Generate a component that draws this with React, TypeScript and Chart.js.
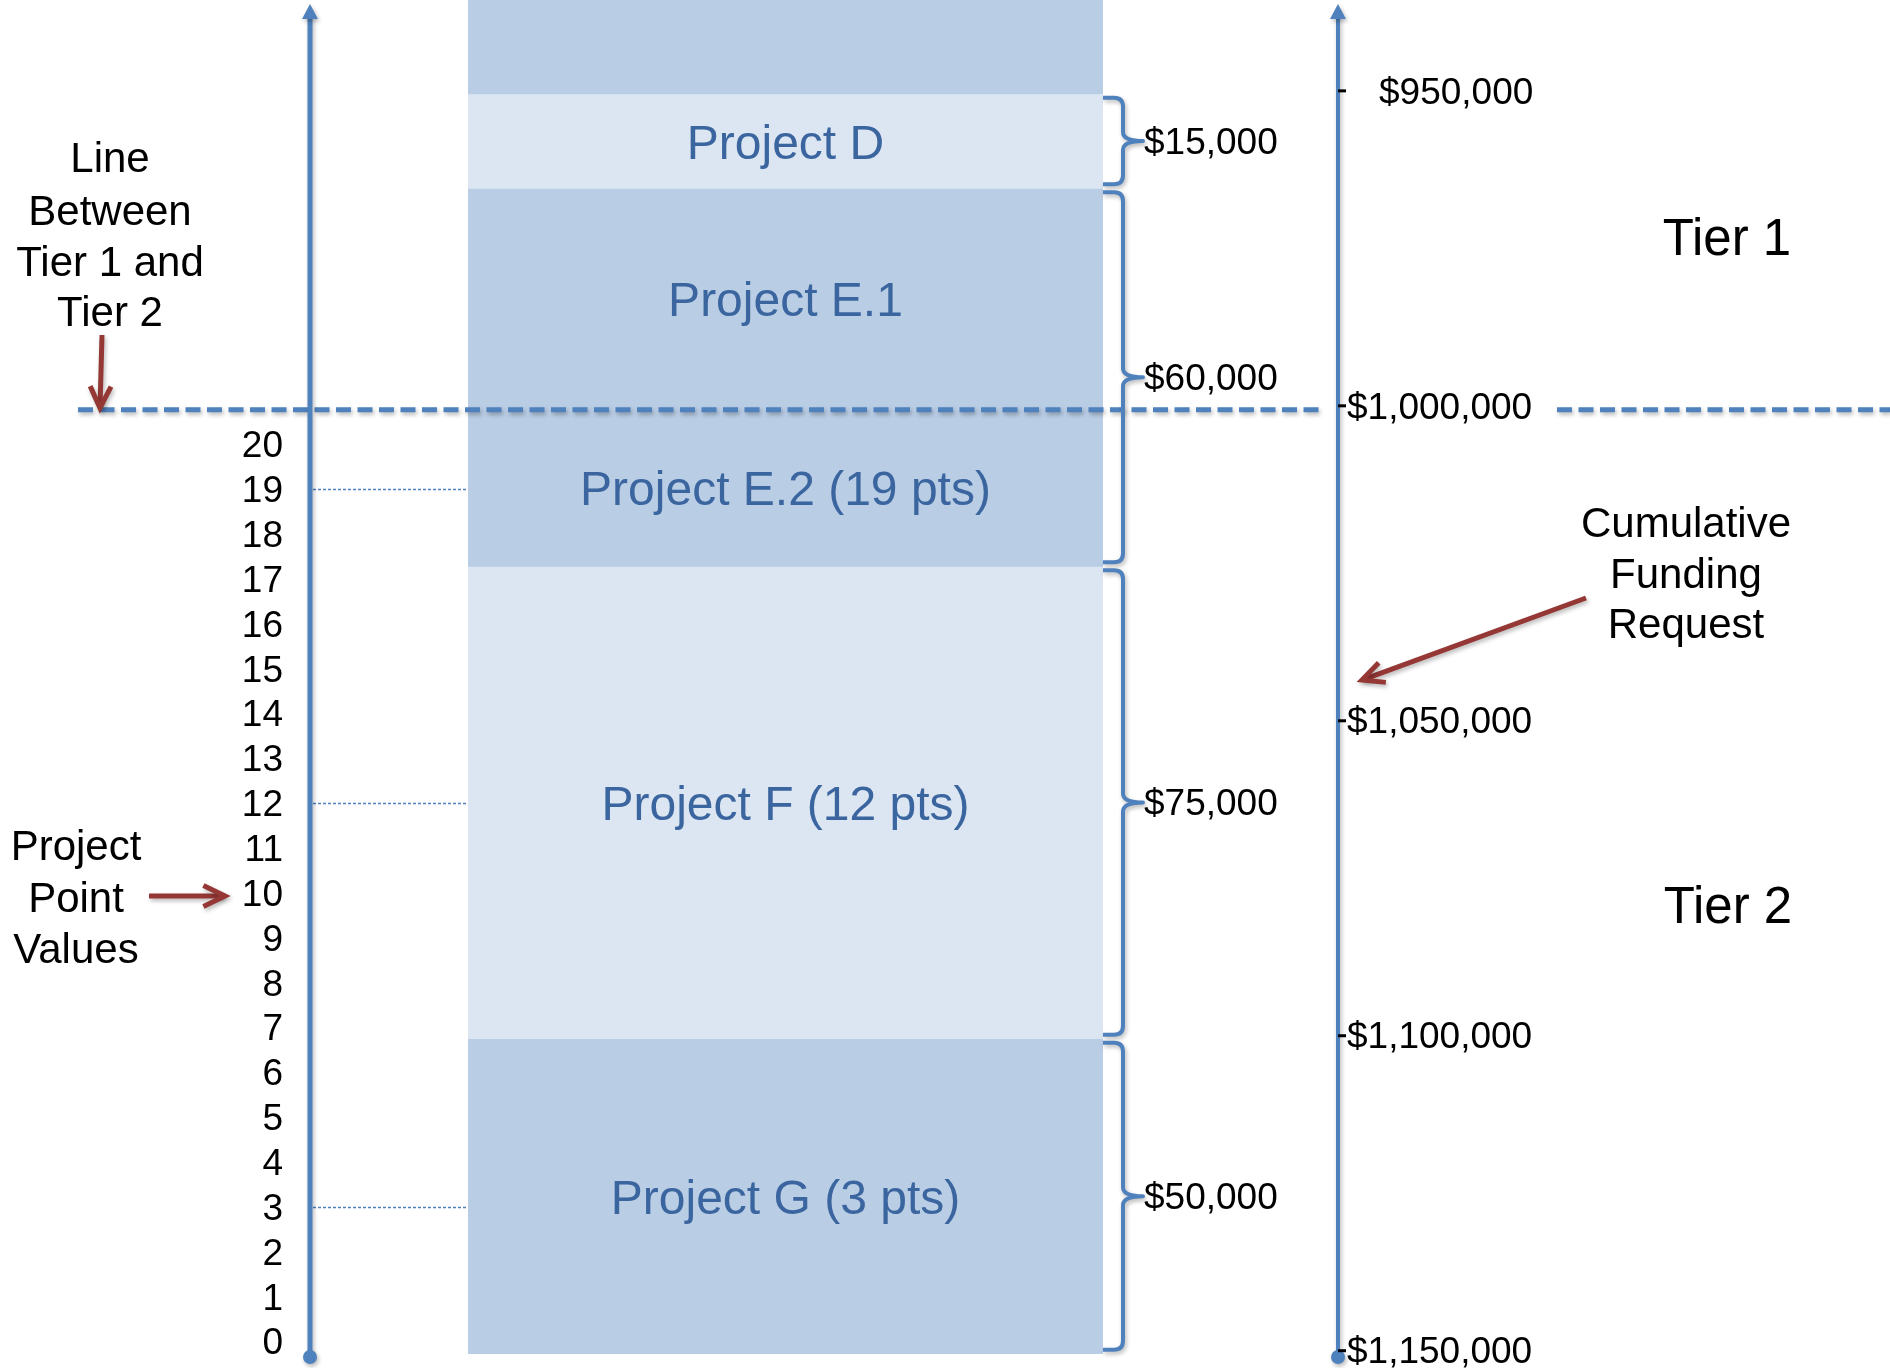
import React, { useEffect, useRef } from 'react';
import { Chart, registerables } from 'chart.js';

Chart.register(...registerables);

// ---------------- data ----------------
const categoryLabels = ['Cumulative Funding Request'];

// stacked funding segments (cumulative dollars, axis increases downward)
const segmentNames = ['Higher-ranked projects', 'Project D', 'Project E.1', 'Project E.2 (19 pts)', 'Project F (12 pts)', 'Project G (3 pts)'];
const segmentFrom = [900000, 950000, 965000, 1000000, 1025000, 1100000];
const segmentTo = [950000, 965000, 1000000, 1025000, 1100000, 1150000];
const segmentShowLabel = [false, true, true, true, true, true];

// funding request per project (braces)
const requestLabels = ['$15,000', '$60,000', '$75,000', '$50,000'];
const requestFrom = [950000, 965000, 1025000, 1100000];
const requestTo = [965000, 1025000, 1100000, 1150000];

// left axis: project point values
const pointTicks = [0, 1, 2, 3, 4, 5, 6, 7, 8, 9, 10, 11, 12, 13, 14, 15, 16, 17, 18, 19, 20];
const markedPoints = [19, 12, 3];

// right axis: cumulative funding request
const fundingTicks = [950000, 1000000, 1050000, 1100000, 1150000];
const fundingTickLabels = ['$950,000', '$1,000,000', '$1,050,000', '$1,100,000', '$1,150,000'];
const tierBoundary = 1000000;

// ---------------- styles ----------------
const segmentColors = ['#B9CDE5', '#DCE6F2', '#B9CDE5', '#B9CDE5', '#DCE6F2', '#B9CDE5'];
const AXIS_BLUE = '#4F81BD';
const TEXT_BLUE = '#3B659F';
const ARROW_RED = '#953735';
const FONT = '"Liberation Sans", Arial, Helvetica, sans-serif';
const NUDGE = 2.5; // canvas 'middle' baseline sits slightly high

function withShadow(ctx: CanvasRenderingContext2D, fn: () => void) {
  ctx.save();
  ctx.shadowColor = 'rgba(0,0,0,0.28)';
  ctx.shadowBlur = 4;
  ctx.shadowOffsetX = 1.5;
  ctx.shadowOffsetY = 2.5;
  fn();
  ctx.restore();
}

function drawArrow(ctx: CanvasRenderingContext2D, x1: number, y1: number, x2: number, y2: number) {
  const ang = Math.atan2(y2 - y1, x2 - x1);
  const len = 24;
  const spread = 0.45;
  withShadow(ctx, () => {
    ctx.strokeStyle = ARROW_RED;
    ctx.lineWidth = 5;
    ctx.lineCap = 'butt';
    ctx.lineJoin = 'miter';
    ctx.beginPath();
    ctx.moveTo(x1, y1);
    ctx.lineTo(x2 - Math.cos(ang) * 2, y2 - Math.sin(ang) * 2);
    ctx.stroke();
    ctx.beginPath();
    ctx.moveTo(x2 - Math.cos(ang - spread) * len, y2 - Math.sin(ang - spread) * len);
    ctx.lineTo(x2, y2);
    ctx.lineTo(x2 - Math.cos(ang + spread) * len, y2 - Math.sin(ang + spread) * len);
    ctx.stroke();
  });
}

function drawVerticalAxis(ctx: CanvasRenderingContext2D, x: number, top: number, bottom: number, width: number) {
  withShadow(ctx, () => {
    ctx.fillStyle = AXIS_BLUE;
    ctx.strokeStyle = AXIS_BLUE;
    ctx.lineWidth = width;
    ctx.beginPath();
    ctx.moveTo(x, top + 12);
    ctx.lineTo(x, bottom);
    ctx.stroke();
    ctx.beginPath();
    ctx.moveTo(x, top);
    ctx.lineTo(x - 8, top + 15);
    ctx.lineTo(x + 8, top + 15);
    ctx.closePath();
    ctx.fill();
    ctx.beginPath();
    ctx.arc(x, bottom, 7, 0, Math.PI * 2);
    ctx.fill();
  });
}

function drawBrace(ctx: CanvasRenderingContext2D, x0: number, y1: number, y2: number) {
  const xv = x0 + 20;
  const tip = x0 + 40;
  const mid = (y1 + y2) / 2;
  const r = 9;
  withShadow(ctx, () => {
    ctx.strokeStyle = AXIS_BLUE;
    ctx.lineWidth = 4;
    ctx.lineJoin = 'round';
    ctx.beginPath();
    ctx.moveTo(x0, y1);
    ctx.lineTo(xv - r, y1);
    ctx.quadraticCurveTo(xv, y1, xv, y1 + r);
    ctx.lineTo(xv, mid - r);
    ctx.quadraticCurveTo(xv, mid, tip, mid);
    ctx.quadraticCurveTo(xv, mid, xv, mid + r);
    ctx.lineTo(xv, y2 - r);
    ctx.quadraticCurveTo(xv, y2, xv - r, y2);
    ctx.lineTo(x0, y2);
    ctx.stroke();
  });
}

function textLines(ctx: CanvasRenderingContext2D, lines: string[], cx: number, ys: number[], size: number) {
  ctx.font = `${size}px ${FONT}`;
  ctx.fillStyle = '#000';
  ctx.textAlign = 'center';
  ctx.textBaseline = 'middle';
  lines.forEach((l, i) => ctx.fillText(l, cx, ys[i] + NUDGE));
}

const diagramPlugin = {
  id: 'fundingDiagram',
  afterDatasetsDraw(chart: any) {
    const ctx: CanvasRenderingContext2D = chart.ctx;
    const area = chart.chartArea;
    const fy = chart.scales.funding;
    const py = chart.scales.points;
    const xs = chart.scales.x;
    const barCenter = xs.getPixelForValue(0);
    const leftAxisX = 310;
    const rightAxisX = 1338;
    const axisBottom = 1357;

    ctx.save();

    // dotted guide lines from point axis to the bar
    ctx.save();
    ctx.strokeStyle = AXIS_BLUE;
    ctx.lineWidth = 1.3;
    ctx.setLineDash([3, 2]);
    markedPoints.forEach((p) => {
      const y = Math.round(py.getPixelForValue(p)) + 0.5;
      ctx.beginPath();
      ctx.moveTo(leftAxisX + 3, y);
      ctx.lineTo(area.left, y);
      ctx.stroke();
    });
    ctx.restore();

    // segment labels inside the bar
    ctx.font = `48px ${FONT}`;
    ctx.fillStyle = TEXT_BLUE;
    ctx.textAlign = 'center';
    ctx.textBaseline = 'middle';
    segmentNames.forEach((name, i) => {
      if (!segmentShowLabel[i]) return;
      const y = (fy.getPixelForValue(segmentFrom[i]) + fy.getPixelForValue(segmentTo[i])) / 2;
      ctx.fillText(name, barCenter, y + NUDGE + 2);
    });

    // tier boundary dashed line
    const ty = fy.getPixelForValue(tierBoundary) + 1;
    withShadow(ctx, () => {
      ctx.strokeStyle = AXIS_BLUE;
      ctx.lineWidth = 5;
      ctx.setLineDash([15, 6.5]);
      ctx.beginPath();
      ctx.moveTo(78, ty);
      ctx.lineTo(1320, ty);
      ctx.moveTo(1557, ty);
      ctx.lineTo(1890, ty);
      ctx.stroke();
    });

    // left axis (points)
    drawVerticalAxis(ctx, leftAxisX, 4, axisBottom, 5);
    ctx.font = `37px ${FONT}`;
    ctx.fillStyle = '#000';
    ctx.textAlign = 'right';
    ctx.textBaseline = 'middle';
    pointTicks.forEach((v) => {
      ctx.fillText(String(v), 283, py.getPixelForValue(v) + NUDGE);
    });

    // right axis (funding)
    drawVerticalAxis(ctx, rightAxisX, 4, axisBottom, 4);
    ctx.textAlign = 'left';
    fundingTicks.forEach((v, i) => {
      const y = fy.getPixelForValue(v) - 3;
      ctx.fillStyle = '#000';
      ctx.fillRect(rightAxisX, y - 1.5, 8, 3);
      const indent = i === 0 ? 32 : 0;
      ctx.fillText(fundingTickLabels[i], rightAxisX + 9 + indent, y + NUDGE);
    });

    // braces with request amounts
    requestLabels.forEach((lab, i) => {
      const y1 = fy.getPixelForValue(requestFrom[i]) + 4;
      const y2 = fy.getPixelForValue(requestTo[i]) - 4;
      drawBrace(ctx, area.right, y1, y2);
      ctx.font = `37px ${FONT}`;
      ctx.fillStyle = '#000';
      ctx.textAlign = 'left';
      ctx.textBaseline = 'middle';
      ctx.fillText(lab, area.right + 41, (y1 + y2) / 2 + NUDGE);
    });

    // annotations
    textLines(ctx, ['Line', 'Between', 'Tier 1 and', 'Tier 2'], 110, [158, 211, 262, 312], 42);
    drawArrow(ctx, 102, 335, 100, 408);
    textLines(ctx, ['Project', 'Point', 'Values'], 76, [846, 898, 949], 42);
    drawArrow(ctx, 149, 896, 225, 896);
    textLines(ctx, ['Cumulative', 'Funding', 'Request'], 1686, [523, 574, 624], 42);
    drawArrow(ctx, 1586, 598, 1362, 680);
    textLines(ctx, ['Tier 1'], 1727, [238], 51);
    textLines(ctx, ['Tier 2'], 1728, [906], 51);

    ctx.restore();
  },
};

export default function App() {
  const canvasRef = useRef<HTMLCanvasElement>(null);

  useEffect(() => {
    const canvas = canvasRef.current;
    if (!canvas) return;
    const chart = new Chart(canvas, {
      type: 'bar',
      data: {
        labels: categoryLabels,
        datasets: segmentNames.map((name, i) => ({
          label: name,
          data: [[segmentFrom[i], segmentTo[i]]] as any,
          backgroundColor: segmentColors[i],
          borderWidth: 0,
          grouped: false,
          barPercentage: 1,
          categoryPercentage: 1,
          yAxisID: 'funding',
        })),
      },
      options: {
        animation: false,
        responsive: false,
        maintainAspectRatio: false,
        devicePixelRatio: 1,
        layout: { padding: { left: 468, right: 787, top: 0, bottom: 8 } },
        plugins: {
          legend: { display: false },
          tooltip: { enabled: false },
          title: { display: false },
        },
        scales: {
          x: { type: 'category', display: false },
          funding: {
            type: 'linear',
            position: 'right',
            reverse: true,
            min: 935100,
            max: 1151000,
            display: false,
          },
          points: {
            type: 'linear',
            position: 'left',
            min: -0.408,
            max: 29.912,
            display: false,
          },
        },
      },
      plugins: [diagramPlugin],
    });
    return () => chart.destroy();
  }, []);

  return (
    <div style={{ position: 'absolute', left: 0, top: 0, width: 1890, height: 1368, background: '#ffffff' }}>
      <canvas ref={canvasRef} width={1890} height={1368} style={{ width: 1890, height: 1368, display: 'block' }} />
    </div>
  );
}
